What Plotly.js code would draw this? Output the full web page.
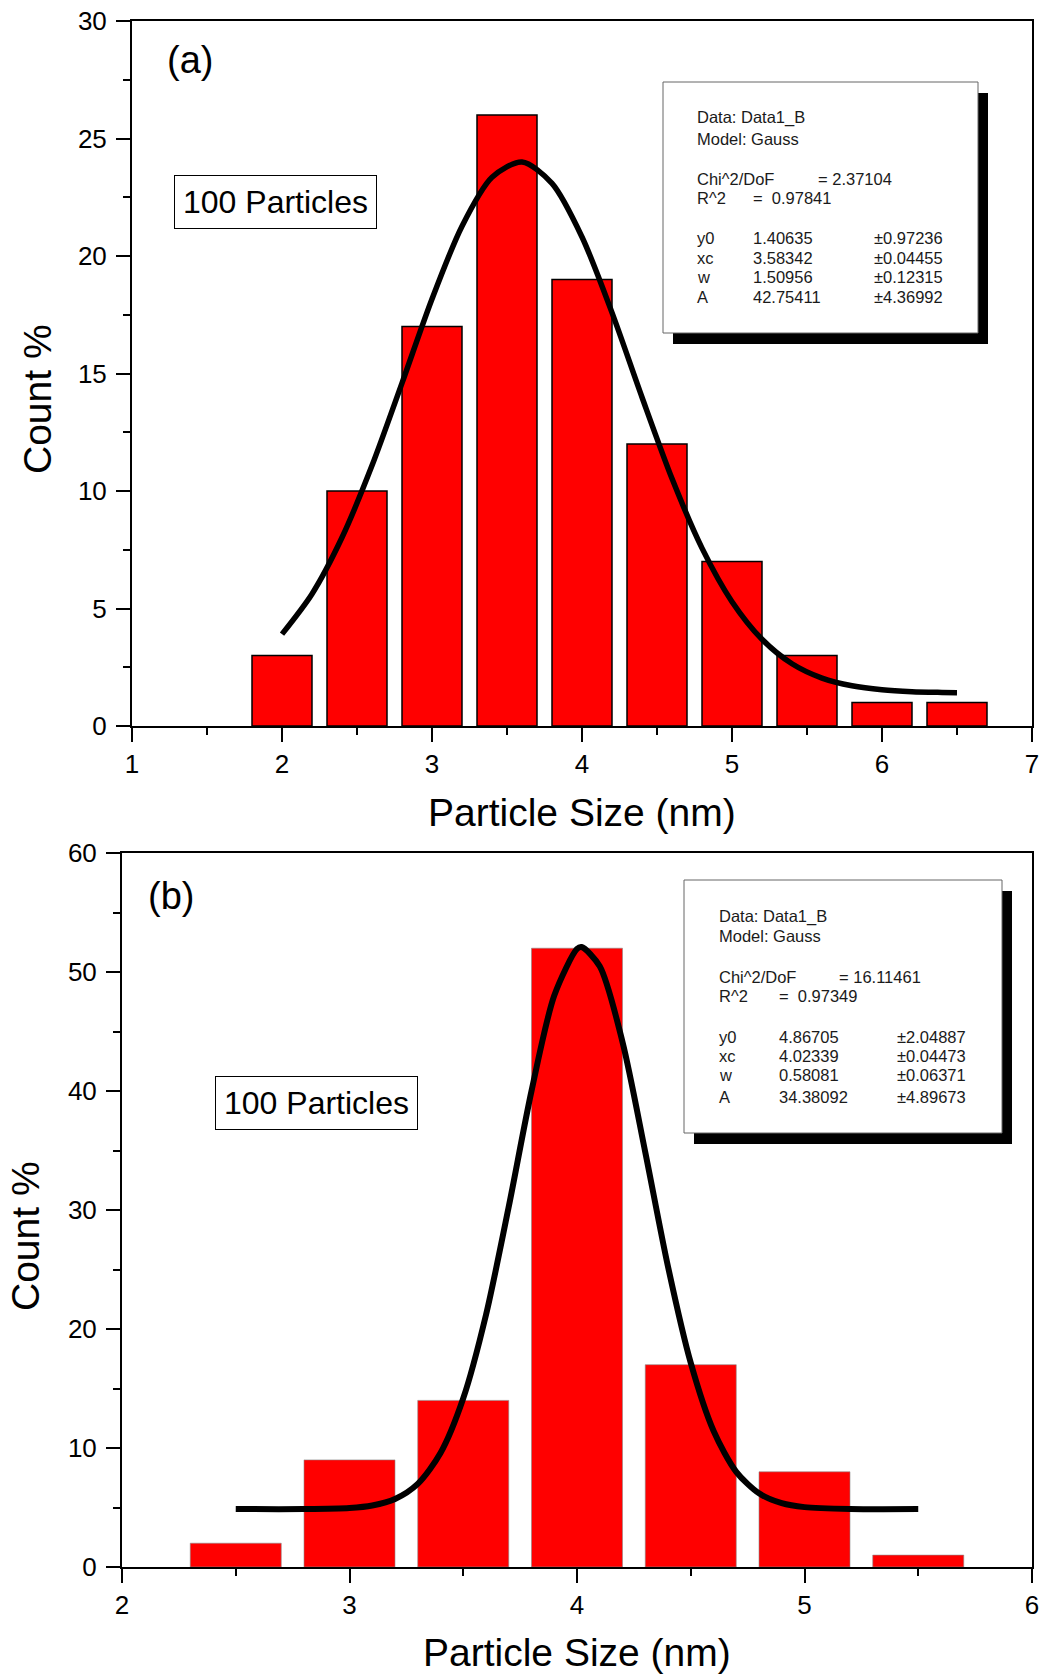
<!DOCTYPE html>
<html>
<head>
<meta charset="utf-8">
<script src="https://cdn.plot.ly/plotly-3.0.1.min.js"></script>
<style>html,body{margin:0;padding:0;background:#fff;}#chart{width:1042px;height:1675px;}</style>
</head>
<body>
<div id="chart"></div>
<script>
// ---------- data (a) ----------
const sizesA = [2.0, 2.5, 3.0, 3.5, 4.0, 4.5, 5.0, 5.5, 6.0, 6.5];
const countsA = [3, 10, 17, 26, 19, 12, 7, 3, 1, 1];
const fitXA = [2.0, 2.2, 2.4, 2.6, 2.8, 3.0, 3.2, 3.4, 3.6, 3.8, 4.0, 4.2, 4.4, 4.6, 4.8, 5.0, 5.2, 5.4, 5.6, 5.8, 6.0, 6.2, 6.4, 6.5];
const fitYA = [3.91, 5.62, 8.02, 11.08, 14.59, 18.17, 21.27, 23.35, 24.00, 23.09, 20.81, 17.59, 13.99, 10.53, 7.57, 5.29, 3.69, 2.65, 2.04, 1.71, 1.54, 1.46, 1.43, 1.42];
const statsA = {
  chi: "= 2.37104", r2: "=  0.97841",
  names: ["y0", "xc", "w", "A"],
  values: ["1.40635", "3.58342", "1.50956", "42.75411"],
  errors: ["\u00b10.97236", "\u00b10.04455", "\u00b10.12315", "\u00b14.36992"]
};
// ---------- data (b) ----------
const sizesB = [2.5, 3.0, 3.5, 4.0, 4.5, 5.0, 5.5];
const countsB = [2, 9, 14, 52, 17, 8, 1];
const fitXB = [2.5, 2.8, 3.0, 3.1, 3.2, 3.3, 3.4, 3.5, 3.6, 3.7, 3.8, 3.9, 4.0, 4.02, 4.1, 4.2, 4.3, 4.4, 4.5, 4.6, 4.7, 4.8, 4.9, 5.0, 5.2, 5.5];
const fitYB = [4.87, 4.87, 4.96, 5.17, 5.72, 6.99, 9.58, 14.18, 21.19, 30.28, 40.00, 48.02, 51.94, 52.10, 50.48, 44.12, 34.87, 25.24, 17.15, 11.45, 8.00, 6.19, 5.36, 5.03, 4.88, 4.87];
const statsB = {
  chi: "= 16.11461", r2: "=  0.97349",
  names: ["y0", "xc", "w", "A"],
  values: ["4.86705", "4.02339", "0.58081", "34.38092"],
  errors: ["\u00b12.04887", "\u00b10.04473", "\u00b10.06371", "\u00b14.89673"]
};
const yTicksA = [0, 5, 10, 15, 20, 25, 30];
const xTicksA = [1, 2, 3, 4, 5, 6, 7];
const yTicksB = [0, 10, 20, 30, 40, 50, 60];
const xTicksB = [2, 3, 4, 5, 6];

// ---------- layout helpers ----------
const W = 1042, H = 1675;
const px = v => v / W;
const py = v => 1 - v / H;
const FONT = "Liberation Sans, Arial, sans-serif";

const traces = [
  {type: "bar", x: sizesA, y: countsA, width: 0.4, xaxis: "x", yaxis: "y",
   marker: {color: "#ff0000", line: {color: "#000", width: 1.5}}},
  {type: "scatter", mode: "lines", x: fitXA, y: fitYA, xaxis: "x", yaxis: "y",
   line: {color: "#000", width: 5.5, shape: "spline", smoothing: 0.8}},
  {type: "bar", x: sizesB, y: countsB, width: 0.4, xaxis: "x2", yaxis: "y2",
   marker: {color: "#ff0000", line: {color: "#8a8a8a", width: 0.6}}},
  {type: "scatter", mode: "lines", x: fitXB, y: fitYB, xaxis: "x2", yaxis: "y2",
   line: {color: "#000", width: 6, shape: "spline", smoothing: 0.8}}
];

function axis(range, tickvals, dom, minorStep, anchor, standoff) {
  return {
    range: range, domain: dom, anchor: anchor,
    tickmode: "array", tickvals: tickvals, ticktext: tickvals.map(String),
    ticks: "outside", ticklen: 14, tickwidth: 2, tickcolor: "#000",
    ticklabelstandoff: standoff,
    minor: {dtick: minorStep, tick0: 0, ticks: "outside", ticklen: 7, tickwidth: 2, tickcolor: "#000", showgrid: false},
    showline: true, linecolor: "#000", linewidth: 2, mirror: true,
    showgrid: false, zeroline: false,
    tickfont: {family: FONT, size: 26, color: "#000"}
  };
}

const layout = {
  width: W, height: H,
  margin: {l: 0, r: 0, t: 0, b: 0},
  paper_bgcolor: "#fff", plot_bgcolor: "#fff",
  showlegend: false, bargap: 0,
  xaxis: axis([1, 7], xTicksA, [px(132), px(1032)], 0.5, "y", 0),
  yaxis: axis([0, 30], yTicksA, [py(726), py(21)], 2.5, "x", 4),
  xaxis2: axis([2, 6], xTicksB, [px(122), px(1032)], 0.5, "y2", 0),
  yaxis2: axis([0, 60], yTicksB, [py(1567), py(853)], 5, "x2", 4),
  shapes: [],
  annotations: []
};

function addText(text, x, y, size, opts) {
  layout.annotations.push(Object.assign({
    xref: "paper", yref: "paper", x: px(x), y: py(y), text: text,
    showarrow: false, xanchor: "center", yanchor: "middle",
    font: {family: FONT, size: size, color: "#000"}
  }, opts || {}));
}

// axis titles and panel labels
addText("Particle Size (nm)", 582, 812, 39);
addText("Count %", 37, 399, 39, {textangle: -90});
addText("(a)", 190, 60, 38);
addText("Particle Size (nm)", 577, 1675, 39, {yanchor: "bottom", borderpad: 0});
addText("Count %", 25, 1236, 39, {textangle: -90});
addText("(b)", 171, 896, 38);
addText("100 Particles", 275.5, 202.5, 32, {bordercolor: "#000", borderwidth: 1, borderpad: 8, bgcolor: "#fff"});
addText("100 Particles", 316.5, 1102.5, 32, {bordercolor: "#000", borderwidth: 1, borderpad: 8, bgcolor: "#fff"});

function statsBox(st, box, textX, rows, cols) {
  const [l, t, r, b] = box;
  layout.shapes.push({type: "rect", xref: "paper", yref: "paper",
    x0: px(l + 10), x1: px(r + 10), y0: py(b + 11), y1: py(t + 11),
    fillcolor: "#000", line: {width: 0}, layer: "above"});
  layout.shapes.push({type: "rect", xref: "paper", yref: "paper",
    x0: px(l), x1: px(r), y0: py(b), y1: py(t),
    fillcolor: "#fff", line: {color: "#666", width: 1}, layer: "above"});
  const o = {xanchor: "left", font: {family: FONT, size: 16.5, color: "#1a1a1a"}};
  addText("Data: Data1_B", textX, rows[0], 16.5, o);
  addText("Model: Gauss", textX, rows[1], 16.5, o);
  addText("Chi^2/DoF", textX, rows[2], 16.5, o);
  addText(st.chi, cols[2], rows[2], 16.5, o);
  addText("R^2", textX, rows[3], 16.5, o);
  addText(st.r2, cols[0], rows[3], 16.5, o);
  for (let i = 0; i < 4; i++) {
    addText(st.names[i], textX, rows[4 + i], 16.5, o);
    addText(st.values[i], cols[0], rows[4 + i], 16.5, o);
    addText(st.errors[i], cols[1], rows[4 + i], 16.5, o);
  }
}
statsBox(statsA, [663, 82, 978, 333], 695, [118, 139, 179, 198, 238, 258, 277, 297], [751, 872, 816]);
statsBox(statsB, [684, 880, 1002, 1133], 717, [917, 936, 977, 996, 1037, 1056, 1075, 1097], [777, 895, 837]);

Plotly.newPlot("chart", traces, layout, {staticPlot: true, displayModeBar: false});
</script>
</body>
</html>
